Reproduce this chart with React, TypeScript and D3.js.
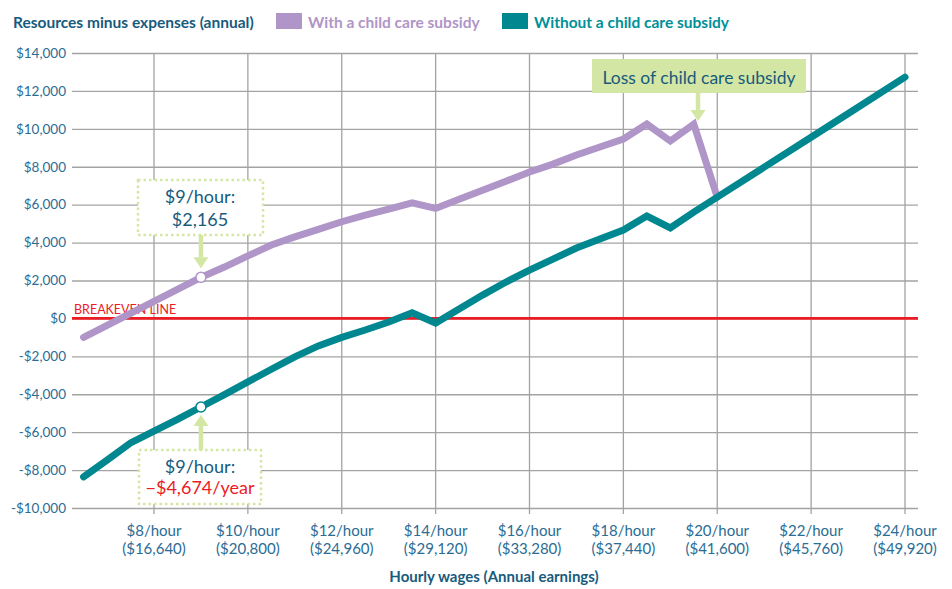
import React, { useEffect, useRef } from 'react';
import * as d3 from 'd3';

// Datos (salario por hora -> recursos menos gastos)
const wagesWithSubsidy = [6.5, 7, 7.5, 8, 8.5, 9, 9.5, 10, 10.5, 11, 11.5, 12, 12.5, 13, 13.5, 14, 14.5, 15, 15.5, 16, 16.5, 17, 17.5, 18, 18.5, 19, 19.5, 20];
const withSubsidy = [-1000, -370, 270, 900, 1530, 2165, 2710, 3300, 3870, 4300, 4700, 5100, 5450, 5770, 6100, 5800, 6280, 6760, 7240, 7720, 8140, 8620, 9040, 9460, 10250, 9360, 10250, 6400];

const wagesWithoutSubsidy = [6.5, 7, 7.5, 8, 8.5, 9, 9.5, 10, 10.5, 11, 11.5, 12, 12.5, 13, 13.5, 14, 14.5, 15, 15.5, 16, 16.5, 17, 17.5, 18, 18.5, 19, 19.5, 20, 21, 22, 23, 24];
const withoutSubsidy = [-8360, -7470, -6570, -5940, -5330, -4674, -4020, -3350, -2680, -2030, -1450, -1000, -610, -190, 300, -240, 500, 1230, 1920, 2550, 3130, 3710, 4190, 4660, 5400, 4770, 5610, 6400, 7980, 9560, 11140, 12730];

const xTickWages = [8, 10, 12, 14, 16, 18, 20, 22, 24];
const xTickEarnings = ['($16,640)', '($20,800)', '($24,960)', '($29,120)', '($33,280)', '($37,440)', '($41,600)', '($45,760)', '($49,920)'];
const yTicks = [-10000, -8000, -6000, -4000, -2000, 0, 2000, 4000, 6000, 8000, 10000, 12000, 14000];

const highlightWage = 9;

const PURPLE = '#b095c8';
const TEAL = '#00878f';
const NAVY = '#175b7d';
const AXISBLUE = '#2b6c94';
const RED = '#ec1c24';
const GREEN = '#d3e6a3';
const GRID = '#a3a3a3';
const FONT = 'Lato, "Open Sans", sans-serif';

const App: React.FC = () => {
    const ref = useRef<SVGSVGElement>(null);

    useEffect(() => {
        document.body.style.margin = '0';
        const width = 952;
        const height = 589;
        const plotLeft = 72;
        const plotRight = 918;
        const plotTop = 53;
        const plotBottom = 508;

        const x = d3.scaleLinear().domain([8, 24]).range([154, 905]);
        const y = d3.scaleLinear().domain([-10000, 14000]).range([plotBottom, plotTop]);

        const svg = d3.select(ref.current).attr('width', width).attr('height', height);
        svg.selectAll('*').remove();

        // Rejilla horizontal + etiquetas del eje Y
        const yAxis = svg.append('g')
            .attr('transform', `translate(${plotLeft},0)`)
            .call(d3.axisLeft(y).tickValues(yTicks).tickSize(-(plotRight - plotLeft)).tickPadding(6)
                .tickFormat((d) => {
                    const v = +d;
                    return (v < 0 ? '-$' : '$') + d3.format(',')(Math.abs(v));
                }));
        yAxis.select('.domain').remove();
        yAxis.selectAll('line').attr('stroke', GRID).attr('stroke-width', 1.3);
        yAxis.selectAll('text').attr('fill', AXISBLUE).style('font-family', FONT).style('font-size', '13.5px');

        // Rejilla vertical
        svg.append('g').selectAll('line').data(xTickWages).enter().append('line')
            .attr('x1', (d) => x(d)).attr('x2', (d) => x(d))
            .attr('y1', plotTop).attr('y2', plotBottom + 6)
            .attr('stroke', GRID).attr('stroke-width', 1.3);

        // Etiquetas del eje X en dos líneas
        const xl = svg.append('g').selectAll('text').data(xTickWages).enter().append('text')
            .attr('text-anchor', 'middle').attr('fill', AXISBLUE)
            .style('font-family', FONT).style('font-size', '15px');
        xl.append('tspan').attr('x', (d) => x(d)).attr('y', 536).text((d) => `$${d}/hour`);
        xl.append('tspan').attr('x', (d) => x(d)).attr('y', 554).text((d, i) => xTickEarnings[i]);

        svg.append('text').attr('x', 494).attr('y', 582).attr('text-anchor', 'middle')
            .attr('fill', NAVY).style('font-family', FONT).style('font-size', '15px').style('font-weight', 700)
            .text('Hourly wages (Annual earnings)');

        // Línea de equilibrio
        svg.append('line').attr('x1', plotLeft).attr('x2', plotRight).attr('y1', y(0)).attr('y2', y(0))
            .attr('stroke', RED).attr('stroke-width', 2.6);
        svg.append('text').attr('x', 74).attr('y', y(0) - 4).attr('fill', RED)
            .style('font-family', FONT).style('font-size', '12.5px').text('BREAKEVEN LINE');

        // Series
        const line = d3.line<[number, number]>().x((d) => x(d[0])).y((d) => y(d[1]));
        const purplePts = wagesWithSubsidy.map((w, i) => [w, withSubsidy[i]] as [number, number]);
        const tealPts = wagesWithoutSubsidy.map((w, i) => [w, withoutSubsidy[i]] as [number, number]);

        svg.append('path').attr('d', line(purplePts)).attr('fill', 'none').attr('stroke', PURPLE)
            .attr('stroke-width', 7).attr('stroke-linecap', 'round').attr('stroke-linejoin', 'miter');
        svg.append('path').attr('d', line(tealPts)).attr('fill', 'none').attr('stroke', TEAL)
            .attr('stroke-width', 7).attr('stroke-linecap', 'round').attr('stroke-linejoin', 'miter');

        // Puntos destacados a $9/hora
        const pv = withSubsidy[wagesWithSubsidy.indexOf(highlightWage)];
        const tv = withoutSubsidy[wagesWithoutSubsidy.indexOf(highlightWage)];
        svg.append('circle').attr('cx', x(highlightWage)).attr('cy', y(pv)).attr('r', 5)
            .attr('fill', '#fff').attr('stroke', PURPLE).attr('stroke-width', 1.5);
        svg.append('circle').attr('cx', x(highlightWage)).attr('cy', y(tv)).attr('r', 5)
            .attr('fill', '#fff').attr('stroke', TEAL).attr('stroke-width', 1.5);

        // Flechas
        const arrow = (cx: number, from: number, to: number) => {
            const dir = to > from ? 1 : -1;
            const headLen = 11;
            svg.append('line').attr('x1', cx).attr('x2', cx).attr('y1', from).attr('y2', to - dir * headLen)
                .attr('stroke', GREEN).attr('stroke-width', 4.5);
            svg.append('path')
                .attr('d', `M${cx - 7.5},${to - dir * headLen} L${cx + 7.5},${to - dir * headLen} L${cx},${to} Z`)
                .attr('fill', GREEN);
        };

        const label = (lines: { text: string; color: string; y: number }[], cx: number, size: number) => {
            lines.forEach((l) => {
                svg.append('text').attr('x', cx).attr('y', l.y).attr('text-anchor', 'middle')
                    .attr('fill', l.color).style('font-family', FONT).style('font-size', `${size}px`).text(l.text);
            });
        };

        // Caja superior ($2,165)
        svg.append('rect').attr('x', 138).attr('y', 180).attr('width', 125).attr('height', 55)
            .attr('fill', '#fff').attr('stroke', GREEN).attr('stroke-width', 2.5).attr('stroke-dasharray', '2.5,3');
        label([
            { text: '$9/hour:', color: NAVY, y: 203 },
            { text: '$2,165', color: NAVY, y: 226 },
        ], 200, 18);
        arrow(x(highlightWage), 235, y(pv) - 9);

        // Caja inferior (−$4,674/year)
        svg.append('rect').attr('x', 139).attr('y', 450).attr('width', 122).attr('height', 54)
            .attr('fill', '#fff').attr('stroke', GREEN).attr('stroke-width', 2.5).attr('stroke-dasharray', '2.5,3');
        label([{ text: '$9/hour:', color: NAVY, y: 473 }], 200, 18);
        label([{ text: '\u2212$4,674/year', color: RED, y: 494 }], 200, 18);
        arrow(x(highlightWage), 450, y(tv) + 8);

        // Pérdida del subsidio
        svg.append('rect').attr('x', 592).attr('y', 59).attr('width', 214).attr('height', 34).attr('fill', GREEN);
        label([{ text: 'Loss of child care subsidy', color: NAVY, y: 84 }], 699, 17.5);
        arrow(698, 93, 121);

        // Título y leyenda
        svg.append('text').attr('x', 13).attr('y', 28).attr('fill', NAVY)
            .style('font-family', FONT).style('font-size', '15.5px').style('font-weight', 700)
            .text('Resources minus expenses (annual)');
        svg.append('rect').attr('x', 276).attr('y', 13).attr('width', 26).attr('height', 16).attr('fill', PURPLE);
        svg.append('text').attr('x', 308).attr('y', 28).attr('fill', PURPLE)
            .style('font-family', FONT).style('font-size', '15.5px').style('font-weight', 700)
            .text('With a child care subsidy');
        svg.append('rect').attr('x', 502).attr('y', 13).attr('width', 26).attr('height', 16).attr('fill', TEAL);
        svg.append('text').attr('x', 534).attr('y', 28).attr('fill', '#00909a')
            .style('font-family', FONT).style('font-size', '15.5px').style('font-weight', 700)
            .text('Without a child care subsidy');
    }, []);

    return <svg ref={ref} style={{ display: 'block' }}></svg>;
};

export default App;
